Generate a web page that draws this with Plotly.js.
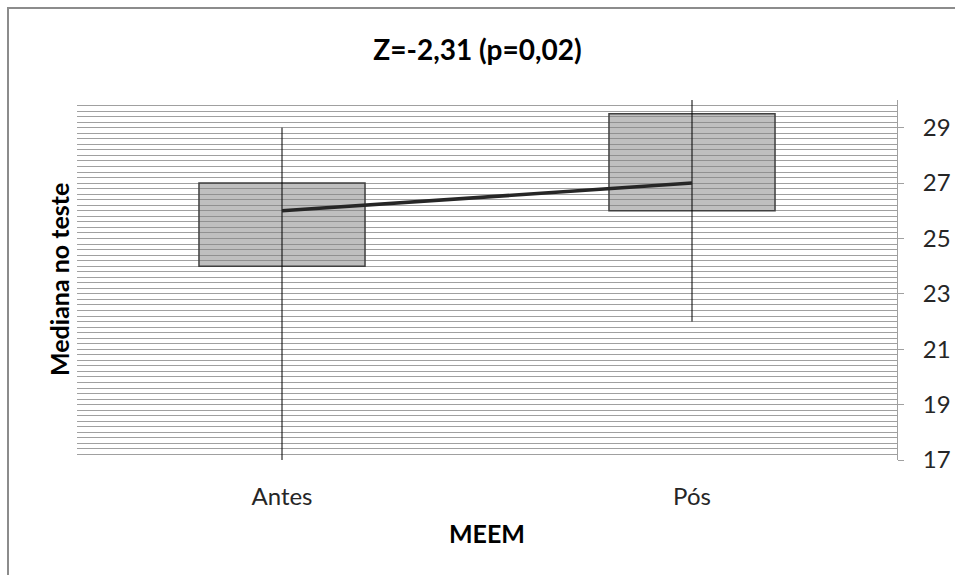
<!DOCTYPE html>
<html>
<head>
<meta charset="utf-8">
<script src="https://cdn.plot.ly/plotly-3.0.1.min.js"></script>
<style>
html,body{margin:0;padding:0;background:#fff;overflow:hidden;}
#chart{width:955px;height:575px;position:absolute;left:0;top:0;}
#frame{position:absolute;left:7px;top:7px;width:960px;height:580px;border-left:2px solid #8c8c8c;border-top:2px solid #8c8c8c;pointer-events:none;}
</style>
</head>
<body>
<div id="chart"></div>
<div id="frame"></div>
<script>
var categories = ["Antes", "Pós"];
var whiskerLow = [17, 22];
var whiskerHigh = [29, 30];
var boxLow = [24, 26];
var boxHigh = [27, 29.5];
var medians = [26, 27];
var yTicks = [17, 19, 21, 23, 25, 27, 29];

var traces = [];
// boxes
traces.push({
  type: 'bar',
  x: categories,
  base: boxLow,
  y: boxHigh.map(function(h, i){ return h - boxLow[i]; }),
  width: 0.405,
  marker: {color: 'rgba(128,128,128,0.5)', line: {color: '#404040', width: 1.5}},
  hoverinfo: 'skip',
  showlegend: false
});
// whiskers
categories.forEach(function(c, i){
  traces.push({
    type: 'scatter', mode: 'lines',
    x: [c, c], y: [whiskerLow[i], whiskerHigh[i]],
    line: {color: '#000000', width: 1},
    hoverinfo: 'skip', showlegend: false
  });
});
// median line
traces.push({
  type: 'scatter', mode: 'lines',
  x: categories, y: medians,
  line: {color: '#262626', width: 3.5},
  hoverinfo: 'skip', showlegend: false
});

var fontFam = 'Lato, "Open Sans", sans-serif';
var layout = {
  width: 955, height: 575,
  margin: {l: 77, r: 58, t: 100, b: 115, pad: 0},
  paper_bgcolor: '#ffffff', plot_bgcolor: '#ffffff',
  title: {text: '<b>Z=-2,31 (p=0,02)</b>', font: {family: fontFam, size: 28, color: '#000'}, x: 0.5, xanchor: 'center', y: 0.913, yanchor: 'middle'},
  xaxis: {
    type: 'category', range: [-0.5, 1.5],
    showgrid: false, zeroline: false, showline: false, ticks: '',
    ticklabelstandoff: 20,
    tickfont: {family: fontFam, size: 24, color: '#262626'},
    title: {text: '<b>MEEM</b>', font: {family: fontFam, size: 25, color: '#000'}, standoff: 16}
  },
  yaxis: {
    side: 'right', range: [17, 30], tickvals: yTicks,
    showgrid: true, gridcolor: '#a0a0a0', gridwidth: 1,
    minor: {dtick: 0.2, showgrid: true, gridcolor: '#a0a0a0', gridwidth: 1, ticks: ''},
    showline: true, linecolor: '#a0a0a0', linewidth: 1,
    ticks: 'outside', ticklen: 6, tickcolor: '#a0a0a0',
    ticklabelstandoff: 14,
    zeroline: false,
    tickfont: {family: fontFam, size: 24, color: '#262626'}
  },
  annotations: [{
    text: '<b>Mediana no teste</b>', textangle: -90,
    xref: 'paper', yref: 'paper', x: 0, y: 0.5,
    xanchor: 'center', yanchor: 'middle', xshift: -18,
    showarrow: false, font: {family: fontFam, size: 25, color: '#000'}
  }],
  showlegend: false
};
Plotly.newPlot('chart', traces, layout, {displayModeBar: false, staticPlot: true});
</script>
</body>
</html>
